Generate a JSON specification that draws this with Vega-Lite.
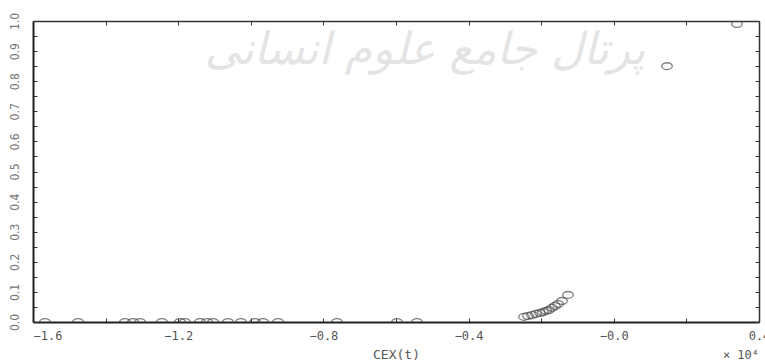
{
  "$schema": "https://vega.github.io/schema/vega-lite/v6.json",
  "width": 726,
  "height": 301,
  "autosize": {"type": "none"},
  "padding": {"left": 33, "top": 21, "right": 6, "bottom": 41},
  "background": "white",
  "config": {"view": {"stroke": null}, "axis": {"grid": false}},
  "title": {"text": "× 10⁴", "orient": "bottom", "anchor": "end", "frame": "group", "font": "DejaVu Sans Mono", "fontSize": 12, "fontWeight": "normal", "color": "#555", "offset": -11},
  "datasets": {
    "points": [
      {"cex": -15670, "p": 0}, {"cex": -14760, "p": 0}, {"cex": -13466, "p": 0}, {"cex": -13245, "p": 0},
      {"cex": -13052, "p": 0}, {"cex": -12446, "p": 0}, {"cex": -11950, "p": 0}, {"cex": -11813, "p": 0},
      {"cex": -11400, "p": 0}, {"cex": -11207, "p": 0}, {"cex": -11041, "p": 0}, {"cex": -10628, "p": 0},
      {"cex": -10270, "p": 0}, {"cex": -9884, "p": 0}, {"cex": -9664, "p": 0}, {"cex": -9250, "p": 0},
      {"cex": -7625, "p": 0}, {"cex": -5972, "p": 0}, {"cex": -5421, "p": 0},
      {"cex": -2474, "p": 0.017}, {"cex": -2364, "p": 0.02}, {"cex": -2253, "p": 0.023}, {"cex": -2143, "p": 0.027},
      {"cex": -2033, "p": 0.03}, {"cex": -1950, "p": 0.033}, {"cex": -1868, "p": 0.037}, {"cex": -1785, "p": 0.04},
      {"cex": -1702, "p": 0.047}, {"cex": -1620, "p": 0.053}, {"cex": -1537, "p": 0.06}, {"cex": -1427, "p": 0.07},
      {"cex": -1262, "p": 0.09},
      {"cex": 1466, "p": 0.85}, {"cex": 3394, "p": 0.99}
    ],
    "wm": [{"cex": -5200, "p": 0.9, "label": "پرتال جامع علوم انسانی"}]
  },
  "layer": [
    {
      "data": {"name": "wm"},
      "mark": {"type": "text", "font": "DejaVu Sans", "fontSize": 44, "color": "#e4e4e4", "fontStyle": "italic"},
      "encoding": {
        "x": {"field": "cex", "type": "quantitative", "scale": {"domain": [-16000, 4000], "nice": false, "zero": false},
          "axis": {"orient": "top", "values": [-16000, -14000, -12000, -10000, -8000, -6000, -4000, -2000, 0, 2000, 4000], "labels": false, "title": null, "tickSize": -4, "tickColor": "#333", "domainColor": "#333", "domainWidth": 1.5}},
        "y": {"field": "p", "type": "quantitative", "scale": {"domain": [0, 1], "nice": false},
          "axis": {"orient": "right", "values": [0, 0.05, 0.1, 0.15, 0.2, 0.25, 0.3, 0.35, 0.4, 0.45, 0.5, 0.55, 0.6, 0.65, 0.7, 0.75, 0.8, 0.85, 0.9, 0.95, 1], "labels": false, "title": null, "tickSize": -4, "tickColor": "#333", "domainColor": "#333", "domainWidth": 1.5}},
        "text": {"field": "label"}
      }
    },
    {
      "data": {"name": "points"},
      "mark": {"type": "point", "shape": "M -1 0 A 1 0.65 0 1 1 1 0 A 1 0.65 0 1 1 -1 0 Z", "size": 110, "filled": false, "stroke": "#444", "strokeWidth": 1.3, "clip": true},
      "encoding": {
        "x": {"field": "cex", "type": "quantitative", "scale": {"domain": [-16000, 4000], "nice": false, "zero": false},
          "axis": {"orient": "bottom", "values": [-16000, -14000, -12000, -10000, -8000, -6000, -4000, -2000, 0, 2000, 4000],
            "labelExpr": "datum.value % 4000 == 0 ? (datum.value <= 0 ? '−' : '') + format(abs(datum.value)/10000, '.1f') : ''",
            "labelAlign": {"condition": {"test": "datum.value == -16000", "value": "left"}, "value": "center"},
            "labelFont": "DejaVu Sans Mono", "labelFontSize": 12, "labelColor": "#555", "labelPadding": 12,
            "tickSize": -4, "tickColor": "#333", "domainColor": "#222", "domainWidth": 2,
            "title": "CEX(t)", "titleFont": "DejaVu Sans Mono", "titleFontSize": 13, "titleFontWeight": "normal", "titleColor": "#555", "titlePadding": 7}},
        "y": {"field": "p", "type": "quantitative", "scale": {"domain": [0, 1], "nice": false},
          "axis": {"orient": "left", "values": [0, 0.05, 0.1, 0.15, 0.2, 0.25, 0.3, 0.35, 0.4, 0.45, 0.5, 0.55, 0.6, 0.65, 0.7, 0.75, 0.8, 0.85, 0.9, 0.95, 1],
            "labelExpr": "round(datum.value*100) % 10 == 0 ? format(datum.value, '.1f') : ''",
            "labelAngle": -90, "labelAlign": "center", "labelBaseline": "bottom",
            "labelFont": "DejaVu Sans Condensed", "labelFontSize": 12, "labelColor": "#777", "labelPadding": 16,
            "tickSize": -4, "tickColor": "#333", "domainColor": "#222", "domainWidth": 2, "title": null}}
      }
    }
  ],
  "resolve": {"axis": {"x": "independent", "y": "independent"}}
}
